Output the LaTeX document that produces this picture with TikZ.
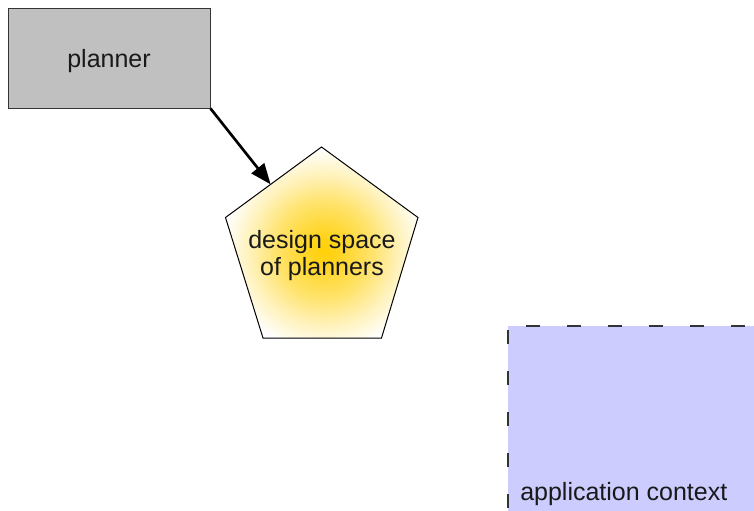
\documentclass[tikz,border=0pt]{standalone}
\usepackage{fontspec}
\setmainfont{Liberation Sans}
\usetikzlibrary{arrows.meta, calc}

\definecolor{boxgray}{RGB}{192,192,192}
\definecolor{edgegray}{RGB}{52,52,52}
\definecolor{glowgold}{RGB}{255,208,10}
\definecolor{lavender}{RGB}{204,204,255}

% soft golden glow at natural size (radius 80bp), fading to white
\pgfdeclareradialshading{goldglow}{\pgfpoint{0bp}{0bp}}{%
  color(0bp)=(glowgold);
  color(8bp)=(glowgold!95!white);
  color(36bp)=(glowgold!60!white);
  color(56bp)=(glowgold!28!white);
  color(76bp)=(white);
  color(80bp)=(white)}

\tikzset{
  label text/.style={font=\fontsize{18.75pt}{20.25pt}\selectfont, text=black!90},
  plannerbox/.style={label text, draw=edgegray, line width=0.75pt, fill=boxgray,
    minimum width=151.5pt, minimum height=75pt, inner sep=0pt,
    text height=13.5pt, text depth=0pt},
  pentaedge/.style={draw=black, line width=0.75pt},
  flow/.style={-{Triangle[length=15.5pt,width=12pt]}, line width=2pt, black},
  contextdash/.style={draw=black!80, line width=0.9pt,
    dash pattern=on 10.5pt off 20.25pt},
}

\begin{document}
\begin{tikzpicture}[x=0.75pt, y=-0.75pt]
  \useasboundingbox (0,0) rectangle (754,511);

  % planner box
  \node[plannerbox] (planner) at (109,58) {planner};

  % pentagon corners
  \coordinate (ptop)   at (321.5,147);
  \coordinate (pright) at (418,217.5);
  \coordinate (pbr)    at (381.5,338);
  \coordinate (pbl)    at (263,338);
  \coordinate (pleft)  at (225.5,217.5);

  % glow clipped to the pentagon
  \begin{scope}
    \clip (ptop) -- (pright) -- (pbr) -- (pbl) -- (pleft) -- cycle;
    \node[inner sep=0pt] (glow) at (324,250) {\pgfuseshading{goldglow}};
  \end{scope}
  \path[pentaedge] (ptop) -- (pright) -- (pbr) -- (pbl) -- (pleft) -- cycle;

  % base of a multi-line node is the baseline of its last line
  \node[label text, align=center, inner sep=0pt, anchor=base] (space)
    at (322,275) {design space\\of planners};

  % arrow from the planner onto the pentagon's upper-left edge
  \coordinate (hit) at ($(ptop)!0.53!(pleft)$);
  \draw[flow] (planner.south east) -- (hit);

  % application context region
  \node[fill=lavender, inner sep=0pt, minimum width=184.5pt, minimum height=138.75pt,
        anchor=north west] (app) at (508,326) {};
  \draw[contextdash, dash phase=17.25pt] (app.north west) -- (app.north east);
  \draw[contextdash, dash phase=27.75pt] (app.north west) -- (app.south west);

  \node[label text, anchor=base west, inner sep=0pt] (applabel)
    at (520,500) {application context};
\end{tikzpicture}
\end{document}
